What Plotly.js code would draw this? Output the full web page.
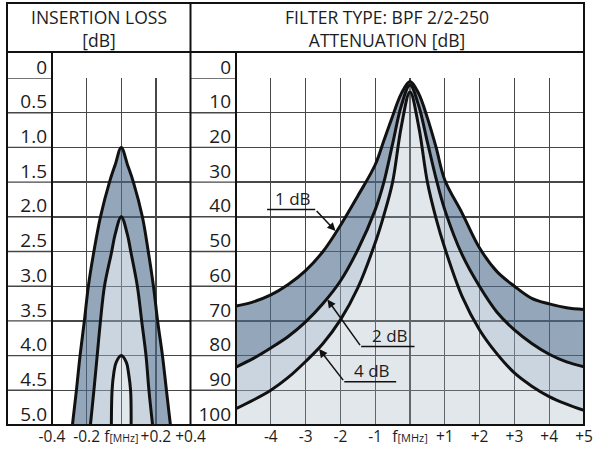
<!DOCTYPE html>
<html>
<head>
<meta charset="utf-8">
<script src="https://cdn.plot.ly/plotly-3.0.1.min.js"></script>
<style>
  html, body { margin: 0; padding: 0; background: #fff; }
  #chart { width: 600px; height: 455px; }
</style>
</head>
<body>
<div id="chart"></div>
<script>
// ---- Insertion loss panel: loss [dB] against frequency offset [MHz] ----
const lossTickVals = [0, 0.5, 1, 1.5, 2, 2.5, 3, 3.5, 4, 4.5, 5];
const lossTickText = ['0', '0.5', '1.0', '1.5', '2.0', '2.5', '3.0', '3.5', '4.0', '4.5', '5.0'];
const lossFreqTicks = [-0.4, -0.2, 0, 0.2, 0.4];
const lossFreqText = ['-0.4', '-0.2', 'f<span style="font-size:10.5px">[MHz]</span>', '+0.2', '+0.4'];

// 1 dB filter (outer arch)
const loss1F  = [-0.282, -0.259, -0.238, -0.213, -0.19, -0.158, -0.12, -0.068, -0.035, 0, 0.036, 0.07, 0.122, 0.156, 0.186, 0.21, 0.238, 0.261, 0.284];
const loss1Db = [5.0, 4.5, 4.0, 3.5, 3.0, 2.5, 2.0, 1.5, 1.25, 1.0, 1.25, 1.5, 2.0, 2.5, 3.0, 3.5, 4.0, 4.5, 5.0];
// 2 dB filter (middle arch)
const loss2F  = [-0.178, -0.158, -0.139, -0.12, -0.097, -0.055, -0.035, 0, 0.035, 0.055, 0.093, 0.118, 0.143, 0.16, 0.181];
const loss2Db = [5.0, 4.5, 4.0, 3.5, 3.0, 2.5, 2.25, 2.0, 2.25, 2.5, 3.0, 3.5, 4.0, 4.5, 5.0];
// 4 dB filter (inner arch)
const loss4F  = [-0.057, -0.053, -0.043, -0.03, 0, 0.03, 0.042, 0.054, 0.057];
const loss4Db = [5.0, 4.5, 4.25, 4.1, 4.0, 4.1, 4.25, 4.5, 5.0];

// ---- Attenuation panel: attenuation [dB] against frequency offset [MHz] ----
const attTickVals = [0, 10, 20, 30, 40, 50, 60, 70, 80, 90, 100];
const attTickText = ['0', '10', '20', '30', '40', '50', '60', '70', '80', '90', '100'];
const attFreqTicks = [-5, -4, -3, -2, -1, 0, 1, 2, 3, 4, 5];
const attFreqText = ['', '-4', '-3', '-2', '-1', 'f<span style="font-size:11px">[MHz]</span>', '+1', '+2', '+3', '+4', '+5'];

const attF    = [-5, -4.5, -4, -3.5, -3, -2.5, -2, -1.5, -1, -0.75, -0.5, -0.25, 0, 0.25, 0.5, 0.75, 1, 1.5, 2, 2.5, 3, 3.5, 4, 4.5, 5];
const att1Db  = [65.7, 64.5, 62.5, 59.5, 55.5, 50, 42.5, 34, 25, 18, 11, 4.5, 1, 4.5, 11.5, 20, 29.4, 39, 49, 55.8, 60, 63.5, 65.1, 66.2, 66.7];
const att2Db  = [83.3, 80.8, 77.8, 74.5, 70.3, 65, 58.5, 49.5, 38, 30, 19, 8, 2, 8, 18.5, 29, 38, 51, 60.1, 67.5, 72.6, 76.5, 79.6, 81.8, 83.2];
const att4Db  = [95.3, 92.8, 90, 86.3, 81.7, 76.5, 69.7, 60.5, 47.5, 39.5, 30, 14, 4, 14, 30, 40.5, 49, 63, 72.6, 79.5, 85, 88.8, 91.8, 94, 95.8];

// curve call-outs: label text, arrow tip on the curve
const calloutText = ['1 dB', '2 dB', '4 dB'];
const calloutTipF = [-2.12, -2.39, -2.63];
const calloutTipDb = [44.3, 63.6, 77.9];

// ---- geometry helpers (pixel -> paper) ----
const M = { l: 7, r: 16, t: 3, b: 30 };
const PW = 600 - M.l - M.r, PH = 455 - M.t - M.b;
const PX = p => (p - M.l) / PW;
const PY = p => (455 - M.b - p) / PH;

const FONT = '"Open Sans", "Noto Sans", sans-serif';
const INK = '#1c1c1c';
const GRID = '#474747';
const DARK = 'rgba(77,107,138,0.6)';
const LIGHT = 'rgba(151,171,191,0.5)';
const PALE = 'rgba(158,175,192,0.3)';

const curveLine = { color: '#111', width: 3, shape: 'spline', smoothing: 1 };

const traces = [
  // left panel, innermost first so each band fills to the previous arch
  { x: loss4F, y: loss4Db, xaxis: 'x', yaxis: 'y', mode: 'lines', line: curveLine, fill: 'toself', fillcolor: PALE, hoverinfo: 'skip' },
  { x: loss2F, y: loss2Db, xaxis: 'x', yaxis: 'y', mode: 'lines', line: curveLine, fill: 'tonext', fillcolor: LIGHT, hoverinfo: 'skip' },
  { x: loss1F, y: loss1Db, xaxis: 'x', yaxis: 'y', mode: 'lines', line: curveLine, fill: 'tonext', fillcolor: DARK, hoverinfo: 'skip' },
  // right panel, floor of the axis first, then curves upwards
  { x: attF, y: attF.map(() => attTickVals[attTickVals.length - 1]), xaxis: 'x2', yaxis: 'y2', mode: 'lines', line: { width: 0 }, hoverinfo: 'skip' },
  { x: attF, y: att4Db, xaxis: 'x2', yaxis: 'y2', mode: 'lines', line: curveLine, fill: 'tonexty', fillcolor: PALE, hoverinfo: 'skip' },
  { x: attF, y: att2Db, xaxis: 'x2', yaxis: 'y2', mode: 'lines', line: curveLine, fill: 'tonexty', fillcolor: LIGHT, hoverinfo: 'skip' },
  { x: attF, y: att1Db, xaxis: 'x2', yaxis: 'y2', mode: 'lines', line: curveLine, fill: 'tonexty', fillcolor: DARK, hoverinfo: 'skip' }
];

const xCommon = {
  showgrid: true, gridcolor: GRID, gridwidth: 1.4, zeroline: false, showline: false,
  ticks: '', tickmode: 'array', fixedrange: true,
  tickfont: { family: FONT, size: 15.5, color: INK }
};
const yCommon = {
  showgrid: true, gridcolor: GRID, gridwidth: 1.4, zeroline: false, showline: false,
  ticks: '', tickmode: 'array', fixedrange: true, domain: [0, PY(78)],
  ticklabelshift: 11, ticklabelstandoff: 4,
  tickfont: { family: FONT, size: 19, color: INK }
};

const LEFT_DIV = 52, MID_DIV = 190.5, RIGHT_DIV = 236, HEAD = 52;

const shapes = [];
const rule = { color: '#111', width: 2 };
// rows of the label columns continue the horizontal grid
lossTickVals.forEach(v => shapes.push({ type: 'line', xref: 'paper', yref: 'y', x0: 0, x1: PX(LEFT_DIV), y0: v, y1: v, line: { color: GRID, width: 1.4 } }));
attTickVals.forEach(v => shapes.push({ type: 'line', xref: 'paper', yref: 'y2', x0: PX(MID_DIV), x1: PX(RIGHT_DIV), y0: v, y1: v, line: { color: GRID, width: 1.4 } }));
// table frame
shapes.push({ type: 'rect', xref: 'paper', yref: 'paper', x0: 0, x1: 1, y0: 0, y1: 1, line: rule });
shapes.push({ type: 'line', xref: 'paper', yref: 'paper', x0: 0, x1: 1, y0: PY(HEAD), y1: PY(HEAD), line: rule });
shapes.push({ type: 'line', xref: 'paper', yref: 'paper', x0: PX(MID_DIV), x1: PX(MID_DIV), y0: 0, y1: 1, line: rule });
shapes.push({ type: 'line', xref: 'paper', yref: 'paper', x0: PX(LEFT_DIV), x1: PX(LEFT_DIV), y0: 0, y1: PY(HEAD), line: rule });
shapes.push({ type: 'line', xref: 'paper', yref: 'paper', x0: PX(RIGHT_DIV), x1: PX(RIGHT_DIV), y0: 0, y1: PY(HEAD), line: rule });

// call-out underlines (text sits on a short rule, leader runs from one end)
const underline = [
  { x0: -4.107, x1: -2.723, y: 37.9, tailX: -2.723 },
  { x0: -1.405, x1: 0.130, y: 77.4, tailX: -1.405 },
  { x0: -1.888, x1: -0.398, y: 87.5, tailX: -1.888 }
];
const labelPos = [
  { x: -3.36, y: 34.6 },
  { x: -0.57, y: 74.1 },
  { x: -1.09, y: 84.3 }
];

const annotations = [
  { xref: 'paper', yref: 'paper', x: PX((M.l + MID_DIV) / 2), y: PY(28), xanchor: 'center', yanchor: 'middle',
    text: 'INSERTION LOSS<br>[dB]', showarrow: false, font: { family: FONT, size: 17.5, color: INK } },
  { xref: 'paper', yref: 'paper', x: PX((MID_DIV + 584) / 2), y: PY(28), xanchor: 'center', yanchor: 'middle',
    text: 'FILTER TYPE: BPF 2/2-250<br>ATTENUATION [dB]', showarrow: false, font: { family: FONT, size: 17.5, color: INK } }
];

calloutText.forEach((t, i) => {
  const u = underline[i];
  shapes.push({ type: 'line', xref: 'x2', yref: 'y2', x0: u.x0, x1: u.x1, y0: u.y, y1: u.y, line: { color: '#111', width: 1.5 } });
  annotations.push({ xref: 'x2', yref: 'y2', x: labelPos[i].x, y: labelPos[i].y, text: t, showarrow: false,
    xanchor: 'center', yanchor: 'middle', font: { family: FONT, size: 17, color: INK } });
  annotations.push({ xref: 'x2', yref: 'y2', axref: 'x2', ayref: 'y2', x: calloutTipF[i], y: calloutTipDb[i],
    ax: u.tailX, ay: u.y, text: '', showarrow: true, arrowhead: 2, arrowsize: 1.1, arrowwidth: 1.5, arrowcolor: '#111', standoff: 1 });
});

const layout = {
  width: 600, height: 455,
  margin: M,
  paper_bgcolor: '#fff', plot_bgcolor: '#fff',
  showlegend: false,
  font: { family: FONT, color: INK },
  xaxis: Object.assign({}, xCommon, { domain: [PX(LEFT_DIV), PX(MID_DIV)], range: [-0.4, 0.4], tickvals: lossFreqTicks, ticktext: lossFreqText, anchor: 'y' }),
  yaxis: Object.assign({}, yCommon, { range: [5, 0], tickvals: lossTickVals, ticktext: lossTickText, anchor: 'x' }),
  xaxis2: Object.assign({}, xCommon, { domain: [PX(RIGHT_DIV), 1], range: [-5, 5], tickvals: attFreqTicks, ticktext: attFreqText, anchor: 'y2' }),
  yaxis2: Object.assign({}, yCommon, { range: [100, 0], tickvals: attTickVals, ticktext: attTickText, anchor: 'x2' }),
  shapes: shapes,
  annotations: annotations
};

Plotly.newPlot('chart', traces, layout, { displayModeBar: false, staticPlot: true });
</script>
</body>
</html>
